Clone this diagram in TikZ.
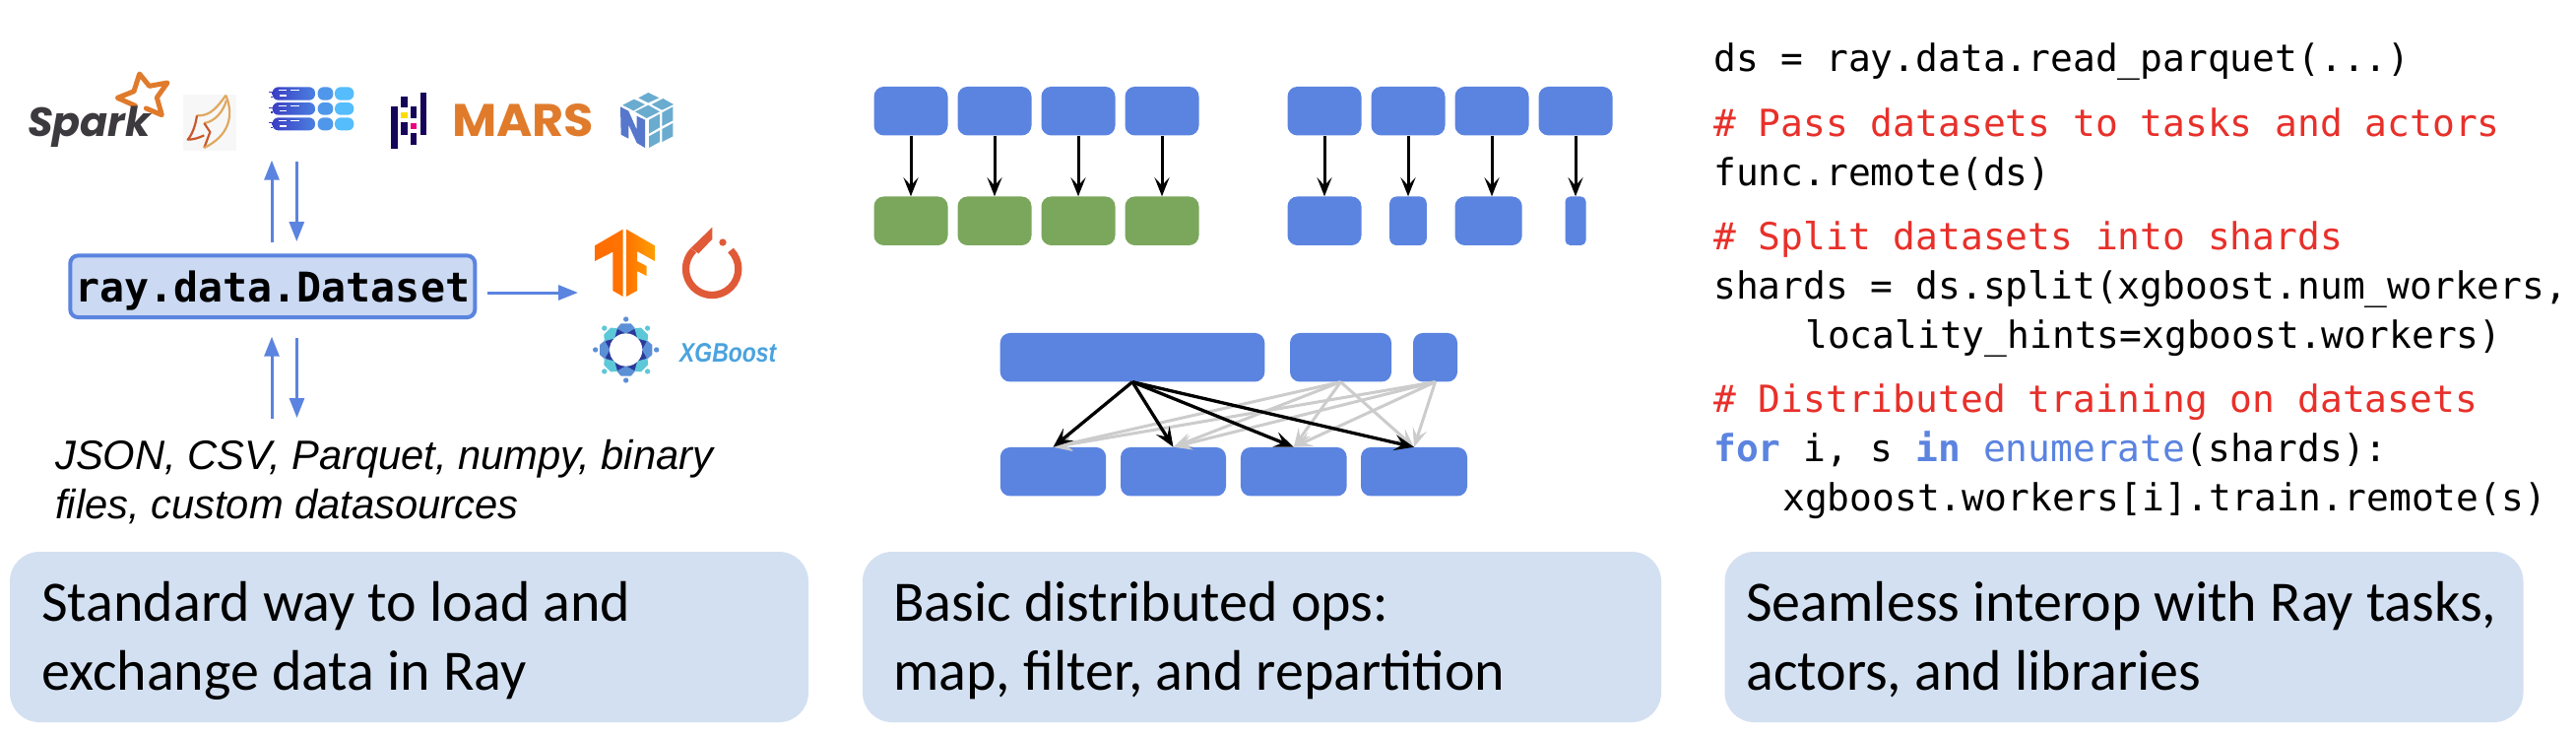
\documentclass[tikz,border=0pt]{standalone}
\usepackage{fontspec}
\usepackage{graphicx}
\usetikzlibrary{arrows.meta}
\setmainfont{Liberation Sans}
\newfontfamily\codefont{DejaVu Sans Mono}
\newfontfamily\capfont{Carlito}
\newfontfamily\poppinsfont{Poppins}
\newcommand{\fsz}[1]{\fontsize{#1}{#1}\selectfont}
\definecolor{rayblue}{HTML}{5B84E0}
\definecolor{raygreen}{HTML}{7AA75C}
\definecolor{panelblue}{HTML}{D3E0F1}
\definecolor{dsfill}{HTML}{CBD9F3}
\definecolor{coderaed}{HTML}{E8302A}
\definecolor{arrowgray}{HTML}{CCCCCC}
\definecolor{logoorange}{HTML}{E07B2C}
\definecolor{pandasnavy}{HTML}{150458}
\definecolor{torchred}{HTML}{E05A38}
\definecolor{npylight}{HTML}{6AACCF}
\definecolor{npydark}{HTML}{5677CC}
\definecolor{xgbtext}{HTML}{4AA3DE}
\definecolor{xgbblue}{HTML}{5B8FD6}
\definecolor{xgbteal}{HTML}{5CC8D8}
\definecolor{xgbnavy}{HTML}{2A3A9C}
\definecolor{pillA}{HTML}{3B3FC4}
\definecolor{pillB}{HTML}{4A80E0}
\definecolor{pillC}{HTML}{4F97EA}
\definecolor{pillD}{HTML}{55BDFB}
\definecolor{featherA}{HTML}{E0A860}
\definecolor{featherB}{HTML}{C8582C}
\definecolor{sparkgray}{HTML}{3C3A3E}
\tikzset{
  x=1pt,y=-1pt,
  bluebox/.style={fill=rayblue,rounded corners=10pt,inner sep=0pt,minimum height=49.5pt},
  greenbox/.style={bluebox,fill=raygreen},
  panel/.style={fill=panelblue,rounded corners=30pt,inner sep=0pt,minimum width=811pt,minimum height=173pt},
  captext/.style={anchor=base west,inner sep=0pt,font=\capfont\fsz{58}},
  codetext/.style={anchor=base west,inner sep=0pt,font=\codefont\fsz{37.9}},
  srctext/.style={anchor=base west,inner sep=0pt,font=\itshape\fsz{41.7}},
  maparrow/.style={draw=black,line width=3pt,-{Stealth[length=19pt,width=15pt,inset=8pt]}},
  grayarrow/.style={draw=arrowgray,line width=3pt,-{Stealth[length=19pt,width=15pt,inset=8pt]}},
  blackarrow/.style={draw=black,line width=3.3pt,-{Stealth[length=20pt,width=16pt,inset=8pt]}},
  bluearrow/.style={draw=rayblue,line width=3pt,-{Triangle[length=20pt,width=15pt]}},
  zoomed/.style={shift={#1},xscale=0.33333,yscale=0.33333},
}
\begin{document}
\begin{tikzpicture}
\useasboundingbox (0,0) rectangle (2616,748);
\fill[white] (0,0) rectangle (2616,748);

% ---------- panels
\node[panel] (p1) at (415.5,646.5) {};
\node[panel] (p2) at (1281.5,646.5) {};
\node[panel] (p3) at (2157,646.5) {};
\node[captext] (c1a) at (42,630) {Standard way to load and};
\node[captext] (c1b) at (42,700.5) {exchange data in Ray};
\node[captext] (c2a) at (907,630) {Basic distributed ops:};
\node[captext] (c2b) at (907,700.5) {map, filter, and repartition};
\node[captext] (c3a) at (1773,630) {Seamless interop with Ray tasks,};
\node[captext] (c3b) at (1773,700.5) {actors, and libraries};

% ---------- Dataset
\node[fill=dsfill,draw=rayblue,line width=4pt,rounded corners=8pt,inner sep=0pt,
  minimum width=411pt,text height=47.4pt,text depth=15.3pt,
  font=\codefont\bfseries\fsz{41.6}] (ds) at (276.8,290.7) {ray.data.Dataset};
\coordinate (upA) at (276,246);
\coordinate (upB) at (276,162.7);
\coordinate (dnA) at (301.3,164.3);
\coordinate (dnB) at (301.3,245);
\coordinate (upC) at (276,425);
\coordinate (upD) at (276,341.7);
\coordinate (dnC) at (301.5,343);
\coordinate (dnD) at (301.5,424);
\coordinate (rtA) at (495,297);
\coordinate (rtB) at (587,297);
\draw[bluearrow] (upA) -- (upB);
\draw[bluearrow] (dnA) -- (dnB);
\draw[bluearrow] (upC) -- (upD);
\draw[bluearrow] (dnC) -- (dnD);
\draw[bluearrow] (rtA) -- (rtB);
\node[srctext] (src1) at (56,476) {JSON, CSV, Parquet, numpy, binary};
\node[srctext] (src2) at (56,526) {files, custom datasources};

% ---------- Spark logo
\begin{scope}[zoomed={(0,30)}]
\draw[logoorange,line width=5pt,line join=round,line cap=round]
  (412,232) -- (358,208) -- (408,188) -- (425,135) -- (455,172) -- (510,162) -- (478,207) -- (493,260) -- (445,240);
\end{scope}
\node[anchor=base west,inner sep=0pt,text=sparkgray] (sparkt) at (28,138)
  {\resizebox{125pt}{!}{\poppinsfont\bfseries\itshape Spark}};

% ---------- feather logo
\begin{scope}[zoomed={(0,30)},line width=2.2pt,line join=round]
\fill[black!3] (558,197) rectangle (720,370);
\draw[featherA] (688,200) .. controls (650,255) and (630,262) .. (600,262);
\draw[featherB] (600,262) .. controls (595,295) and (585,320) .. (572,335) .. controls (590,335) and (605,330) .. (622,322);
\draw[featherA] (622,285) .. controls (655,280) and (680,250) .. (690,215);
\draw[featherB] (622,285) -- (640,312) -- (622,360);
\draw[featherA] (688,200) .. controls (715,265) and (695,325) .. (622,360);
\end{scope}

% ---------- striped pills logo
\begin{scope}[zoomed={(0,30)}]
\foreach \ya/\yb in {175/215,222/260,268/307}{
  \shade[left color=pillA,right color=pillB,rounded corners=6pt] (830,\ya) rectangle (960,\yb);
  \fill[pillC,rounded corners=6pt] (968,\ya) rectangle (1015,\yb);
  \fill[pillD,rounded corners=6pt] (1020,\ya) rectangle (1078,\yb);
}
\foreach \y in {175,222,268}{
  \fill[white] (825,\y) rectangle (836,\y+3);
  \fill[white] (850,\y+8) rectangle (874,\y+12);
  \fill[white] (885,\y+8) rectangle (912,\y+12);
  \fill[white] (852,\y+24) rectangle (874,\y+28);
  \fill[pillA] (818,\y+14) rectangle (832,\y+18);
  \fill[pillA] (824,\y+28) rectangle (832,\y+32);
}
\end{scope}

% ---------- pandas logo
\begin{scope}[zoomed={(390,70)}]
\fill[pandasnavy] (22,113) rectangle (41,243);
\fill[pandasnavy] (52,83) rectangle (71,118);
\fill[pandasnavy] (52,163) rectangle (71,200);
\fill[pandasnavy] (81,114) rectangle (100,150);
\fill[pandasnavy] (81,195) rectangle (100,232);
\fill[pandasnavy] (111,72) rectangle (130,200);
\fill[yellow!80!orange] (52,132) rectangle (71,150);
\fill[magenta!90!red] (81,165) rectangle (100,183);
\end{scope}

% ---------- MARS logo
\node[anchor=base west,inner sep=0pt,text=logoorange] (mars) at (459,138.3)
  {\resizebox{144pt}{33pt}{\poppinsfont\bfseries MARS}};

% ---------- NumPy logo
\begin{scope}[zoomed={(390,70)}]
\fill[npylight] (775,88) -- (805,72) -- (838,88) -- (805,103) -- cycle;
\fill[npylight] (727,110) -- (762,92) -- (795,108) -- (760,127) -- cycle;
\fill[npylight] (815,108) -- (850,90) -- (882,108) -- (847,125) -- cycle;
\fill[npylight] (765,130) -- (805,110) -- (840,130) -- (800,150) -- cycle;
\fill[npylight] (807,155) -- (840,137) -- (840,178) -- (807,197) -- cycle;
\fill[npylight] (847,133) -- (880,115) -- (880,157) -- (847,174) -- cycle;
\fill[npylight] (807,205) -- (840,187) -- (840,222) -- (807,240) -- cycle;
\fill[npylight] (847,183) -- (880,165) -- (880,205) -- (847,222) -- cycle;
\fill[npydark] (720,115) -- (745,128) -- (770,185) -- (770,143) -- (795,155) -- (795,240) -- (770,225) -- (745,170) -- (745,212) -- (722,200) -- cycle;
\end{scope}

% ---------- TensorFlow logo
\begin{scope}[zoomed={(590,190)}]
\shade[left color=orange!85!red,right color=orange!90!red] (42,178) -- (128,128) -- (128,333) -- (97,315) -- (97,197) -- (42,225) -- cycle;
\shade[left color=orange!90!red,right color=orange!75!yellow] (138,128) -- (225,178) -- (225,225) -- (171,195) -- (171,225) -- (200,240) -- (200,270) -- (171,255) -- (171,315) -- (138,333) -- cycle;
\end{scope}

% ---------- PyTorch logo
\begin{scope}[zoomed={(590,190)}]
\draw[torchred,line width=7.3pt] (456,192) arc[start angle=-45,end angle=225,radius=80];
\fill[torchred] (335,185) -- (400,122) -- (400,158) -- (358,202) -- cycle;
\fill[torchred] (432,168) circle[radius=11];
\end{scope}

% ---------- XGBoost logo
\begin{scope}[zoomed={(590,310)}]
\fill[xgbnavy] (137,135) circle[radius=68];
\foreach \a in {0,90,180,270}{
  \fill[xgbblue,rotate around={\a:(137,135)}] (109,70) -- (122,55) -- (152,55) -- (165,70) -- (137,86) -- cycle;
  \fill[xgbblue,rotate around={\a:(137,135)}] (137,42) circle[radius=8];
}
\foreach \a in {45,135,225,315}{
  \fill[xgbteal,rotate around={\a:(137,135)}] (109,70) -- (122,55) -- (152,55) -- (165,70) -- (137,86) -- cycle;
  \fill[xgbteal,rotate around={\a:(137,135)}] (137,42) circle[radius=8];
}
\fill[white] (137,135) circle[radius=50];
\end{scope}
\node[anchor=base west,inner sep=0pt,text=xgbtext] (xgb) at (690,367)
  {\resizebox{98pt}{19pt}{\fsz{26}\bfseries\itshape XGBoost}};

% ---------- map row
\foreach \i/\x in {1/925,2/1010,3/1095,4/1180}{
  \node[bluebox,minimum width=75pt] (mt\i) at (\x,112.7) {};
  \node[greenbox,minimum width=75pt] (mb\i) at (\x,224.2) {};
  \draw[maparrow] (mt\i.south) -- (mb\i.north);
}

% ---------- filter row
\foreach \i/\x in {1/1345,2/1430,3/1515,4/1600}{
  \node[bluebox,minimum width=75pt] (ft\i) at (\x,112.7) {};
}
\node[bluebox,minimum width=75pt] (fb1) at (1345,224.2) {};
\node[bluebox,minimum width=37.6pt,rounded corners=7pt] (fb2) at (1430,224.2) {};
\node[bluebox,minimum width=68.2pt] (fb3) at (1511.6,224.2) {};
\node[bluebox,minimum width=21pt,rounded corners=5pt] (fb4) at (1600,224.2) {};
\foreach \i in {1,2,3,4}{
  \draw[maparrow] (ft\i.south) -- (ft\i.south |- fb\i.north);
}

% ---------- repartition
\node[bluebox,minimum width=268.6pt] (rt1) at (1150,362.7) {};
\node[bluebox,minimum width=103pt] (rt2) at (1361.5,362.7) {};
\node[bluebox,minimum width=45pt] (rt3) at (1457.5,362.7) {};
\node[bluebox,minimum width=107.4pt] (rb1) at (1069.5,478.7) {};
\node[bluebox,minimum width=107pt] (rb2) at (1191.5,478.7) {};
\node[bluebox,minimum width=107.7pt] (rb3) at (1313.8,478.7) {};
\node[bluebox,minimum width=108pt] (rb4) at (1436,478.7) {};
\foreach \s in {2,3}{
  \foreach \t in {1,2,3,4}{
    \draw[grayarrow] (rt\s.south) -- (rb\t.north);
  }
}
\foreach \t in {1,2,3,4}{
  \draw[blackarrow] (rt1.south) -- (rb\t.north);
}

% ---------- code
\node[codetext] (l1) at (1740,72.7) {ds = ray.data.read\_parquet(...)};
\node[codetext,text=coderaed] (l2) at (1740,138) {\# Pass datasets to tasks and actors};
\node[codetext] (l3) at (1740,188) {func.remote(ds)};
\node[codetext,text=coderaed] (l4) at (1740,253) {\# Split datasets into shards};
\node[codetext] (l5) at (1740,303) {shards = ds.split(xgboost.num\_workers,};
\node[codetext] (l6) at (1833,353) {locality\_hints=xgboost.workers)};
\node[codetext,text=coderaed] (l7) at (1740,418) {\# Distributed training on datasets};
\node[codetext] (l8) at (1740,468) {{\color{rayblue}\bfseries for} i, s {\color{rayblue}\bfseries in} {\color{rayblue}enumerate}(shards):};
\node[codetext] (l9) at (1810,518) {xgboost.workers[i].train.remote(s)};
\end{tikzpicture}
\end{document}
